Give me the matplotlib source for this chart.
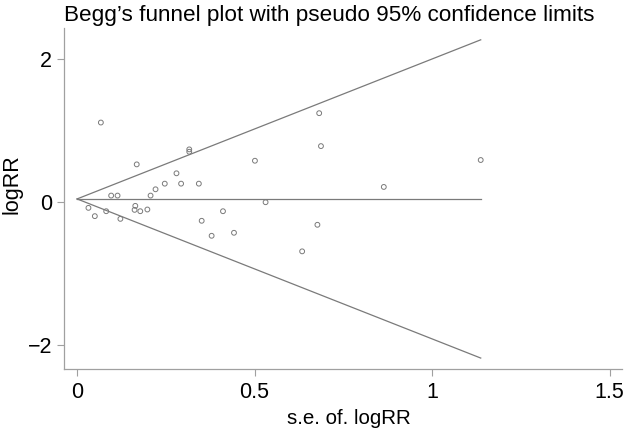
import numpy as np
import matplotlib
matplotlib.use("Agg")
import matplotlib.pyplot as plt

# standard errors and log relative risks
se = [0.067, 0.032, 0.050, 0.082, 0.096, 0.114, 0.122, 0.168, 0.164, 0.162,
      0.178, 0.198, 0.207, 0.221, 0.247, 0.280, 0.293, 0.316, 0.316, 0.343,
      0.351, 0.379, 0.411, 0.442, 0.501, 0.531, 0.634, 0.677, 0.682, 0.687,
      0.864, 1.137]
logrr = [1.116, -0.079, -0.195, -0.126, 0.093, 0.093, -0.233, 0.530, -0.051, -0.107,
         -0.126, -0.102, 0.093, 0.181, 0.260, 0.405, 0.260, 0.740, 0.707, 0.260,
         -0.260, -0.470, -0.126, -0.428, 0.581, 0.0, -0.688, -0.316, 1.247, 0.786,
         0.214, 0.591]

pooled = 0.046  # fixed-effect estimate (horizontal line)
xticks = [0, 0.5, 1, 1.5]
xtick_labels = ["0", "0.5", "1", "1.5"]
yticks = [-2, 0, 2]
ytick_labels = ["\u22122", "0", "2"]

plt.rcParams['font.family'] = ['Liberation Sans', 'DejaVu Sans']

fig = plt.figure(figsize=(6.24, 4.32), dpi=100)
ax = fig.add_axes([64.3 / 624, 1 - 369.3 / 432, (622 - 64.3) / 624, (369.3 - 28) / 432])

gray = "#7a7a7a"

# pseudo 95% confidence limits
se_line = np.array([0, max(se)])
ax.plot(se_line, pooled + 1.96 * se_line, color=gray, lw=0.9)
ax.plot(se_line, pooled - 1.96 * se_line, color=gray, lw=0.9)
ax.plot(se_line, [pooled, pooled], color=gray, lw=0.9)

ax.scatter(se, logrr, s=12, facecolors="none", edgecolors=gray, linewidths=0.7, zorder=3)

ax.set_xlim(-0.036, 1.535)
ax.set_ylim(-2.34, 2.44)

for s in ["top", "right"]:
    ax.spines[s].set_visible(False)
for s in ["left", "bottom"]:
    ax.spines[s].set_color("#a0a0a0")
    ax.spines[s].set_linewidth(0.9)

ax.set_xticks(xticks)
ax.set_xticklabels(xtick_labels)
ax.set_yticks(yticks)
ax.set_yticklabels(ytick_labels)
ax.tick_params(axis="both", direction="out", length=5.2, width=0.8, color="#a0a0a0",
               labelsize=15.5, pad=3.6)

fig.text(329.5 / 624, 1 - 20.7 / 432, "Begg\u2019s funnel plot with pseudo 95% confidence limits",
         ha="center", va="baseline", fontsize=16.2)
fig.text(349 / 624, 1 - 424 / 432, "s.e. of. logRR", ha="center", va="baseline", fontsize=14.8)
fig.text(12.5 / 624, 1 - 184.5 / 432, "logRR", ha="center", va="center", rotation=90, fontsize=15.5)

fig.savefig("out.png", dpi=100)
